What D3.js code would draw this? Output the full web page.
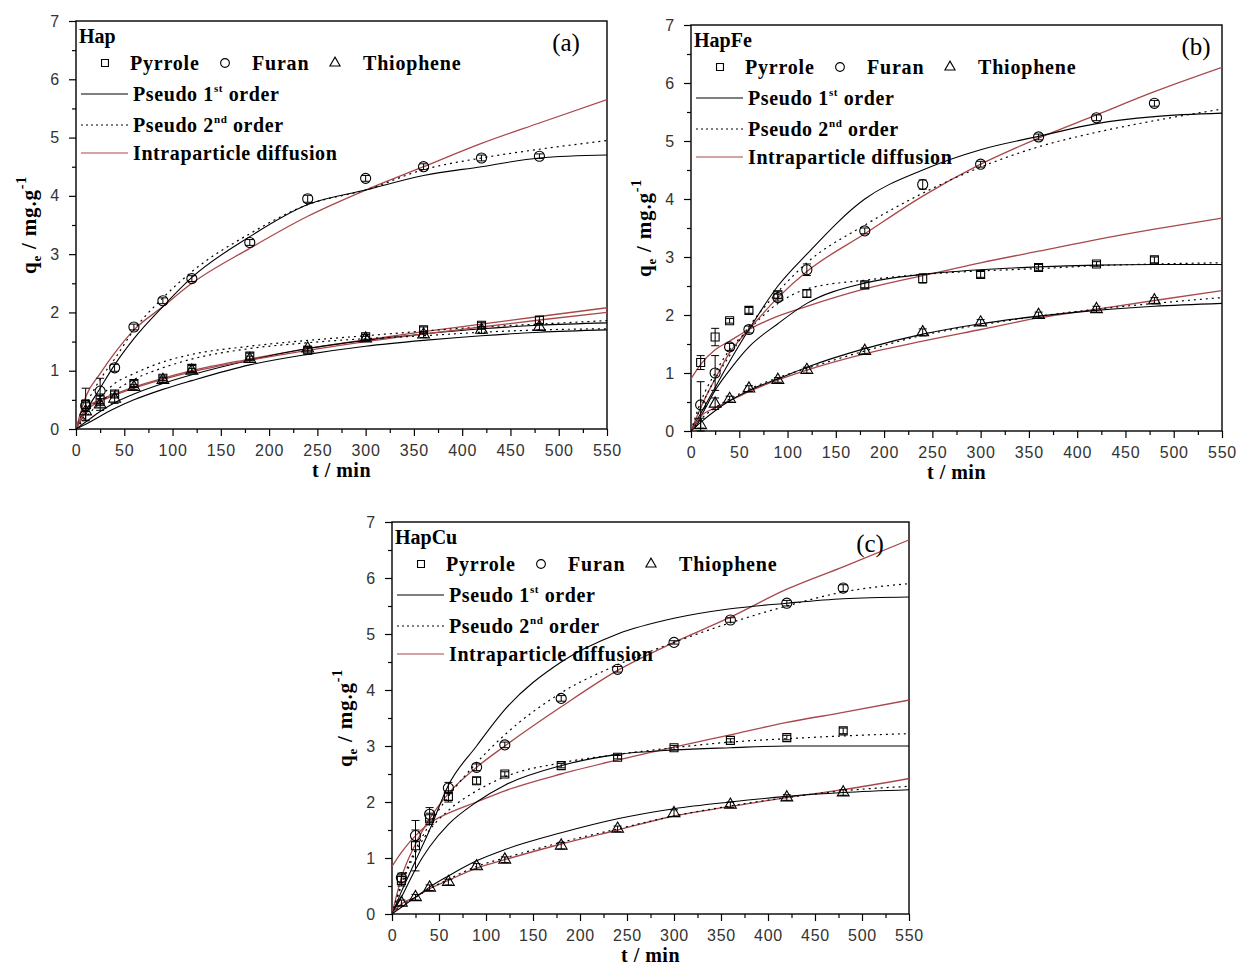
<!DOCTYPE html>
<html>
<head>
<meta charset="utf-8">
<script src="https://cdn.jsdelivr.net/npm/d3@7.9.0/dist/d3.min.js"></script>
<style>
  body { margin: 0; background: #fff; }
  svg { display: block; }
  .tick text { font-family: "Liberation Sans", Arial, sans-serif; font-size: 16px; fill: #333; letter-spacing: 0.8px; }
  .serif { font-family: "Liberation Serif", "Times New Roman", serif; }
</style>
</head>
<body>
<svg id="chart" width="1239" height="970"></svg>
<script>
// Sampling times of the experiments and of the drawn model curves (min)
const sampleTimes = [10, 25, 40, 60, 90, 120, 180, 240, 300, 360, 420, 480];
const curveTimes = [0, 10, 25, 40, 60, 90, 120, 180, 240, 300, 360, 420, 480, 550];

const xTickValues = [0, 50, 100, 150, 200, 250, 300, 350, 400, 450, 500, 550];
const yTickValues = [0, 1, 2, 3, 4, 5, 6, 7];

const panelNames = ['Hap', 'HapFe', 'HapCu'];
const panelTags = ['(a)', '(b)', '(c)'];
const adsorbates = ['Pyrrole', 'Furan', 'Thiophene'];

// ---- (a) Hap ----
const hapPyrrole    = [0.42, 0.50, 0.60, 0.78, 0.87, 1.04, 1.25, 1.35, 1.58, 1.70, 1.78, 1.87];
const hapPyrroleErr = [0.28, 0.10, 0.05, 0.05, 0.04, 0.05, 0.05, 0.05, 0.04, 0.05, 0.05, 0.06];
const hapFuran      = [0.40, 0.65, 1.05, 1.75, 2.20, 2.58, 3.20, 3.95, 4.30, 4.50, 4.65, 4.68];
const hapFuranErr   = [0.10, 0.22, 0.06, 0.05, 0.05, 0.05, 0.05, 0.06, 0.05, 0.05, 0.05, 0.04];
const hapThio       = [0.30, 0.42, 0.52, 0.72, 0.84, 1.00, 1.20, 1.38, 1.55, 1.62, 1.70, 1.75];
const hapThioErr    = [0.15, 0.10, 0.08, 0.04, 0.04, 0.04, 0.05, 0.04, 0.04, 0.05, 0.06, 0.05];

const hapPyrroleP1 = [0, 0.12, 0.30, 0.45, 0.60, 0.78, 0.93, 1.18, 1.38, 1.52, 1.63, 1.72, 1.78, 1.82];
const hapPyrroleP2 = [0, 0.25, 0.55, 0.78, 0.95, 1.15, 1.28, 1.42, 1.52, 1.60, 1.68, 1.75, 1.80, 1.86];
const hapPyrroleID = [0, 0.35, 0.50, 0.60, 0.72, 0.87, 1.00, 1.20, 1.38, 1.53, 1.67, 1.80, 1.93, 2.08];
const hapFuranP1   = [0, 0.30, 0.70, 1.10, 1.55, 2.10, 2.60, 3.30, 3.85, 4.10, 4.35, 4.50, 4.65, 4.70];
const hapFuranP2   = [0, 0.40, 0.85, 1.20, 1.70, 2.25, 2.70, 3.35, 3.85, 4.10, 4.45, 4.65, 4.80, 4.95];
const hapFuranID   = [0, 0.55, 0.95, 1.30, 1.70, 2.10, 2.50, 3.10, 3.65, 4.10, 4.50, 4.90, 5.25, 5.65];
const hapThioP1    = [0, 0.08, 0.22, 0.35, 0.50, 0.68, 0.83, 1.10, 1.28, 1.42, 1.52, 1.60, 1.66, 1.70];
const hapThioP2    = [0, 0.20, 0.45, 0.65, 0.85, 1.05, 1.20, 1.38, 1.48, 1.55, 1.60, 1.66, 1.70, 1.72];
const hapThioID    = [0, 0.30, 0.47, 0.58, 0.70, 0.85, 0.98, 1.18, 1.35, 1.50, 1.63, 1.75, 1.87, 2.00];

// ---- (b) HapFe ----
const fePyrrole    = [1.18, 1.62, 1.90, 2.08, 2.35, 2.37, 2.52, 2.63, 2.70, 2.82, 2.88, 2.95];
const fePyrroleErr = [0.12, 0.15, 0.04, 0.05, 0.06, 0.06, 0.05, 0.08, 0.05, 0.05, 0.04, 0.05];
const feFuran      = [0.45, 1.00, 1.45, 1.75, 2.30, 2.78, 3.45, 4.25, 4.60, 5.07, 5.40, 5.65];
const feFuranErr   = [0.40, 0.30, 0.06, 0.06, 0.06, 0.10, 0.05, 0.08, 0.05, 0.05, 0.05, 0.05];
const feThio       = [0.10, 0.47, 0.55, 0.73, 0.88, 1.05, 1.38, 1.70, 1.87, 2.00, 2.10, 2.25];
const feThioErr    = [0.12, 0.10, 0.05, 0.05, 0.04, 0.05, 0.05, 0.06, 0.05, 0.05, 0.05, 0.05];

const fePyrroleP1 = [0, 0.25, 0.70, 1.05, 1.45, 1.85, 2.20, 2.55, 2.70, 2.78, 2.83, 2.86, 2.87, 2.87];
const fePyrroleP2 = [0, 0.50, 1.00, 1.40, 1.75, 2.20, 2.45, 2.60, 2.70, 2.76, 2.80, 2.85, 2.88, 2.90];
const fePyrroleID = [0.90, 1.15, 1.40, 1.55, 1.75, 1.98, 2.15, 2.45, 2.68, 2.90, 3.10, 3.30, 3.48, 3.67];
const feFuranP1   = [0, 0.30, 0.75, 1.20, 1.75, 2.50, 3.05, 4.00, 4.50, 4.85, 5.08, 5.30, 5.42, 5.48];
const feFuranP2   = [0, 0.40, 0.90, 1.30, 1.80, 2.40, 2.90, 3.55, 4.10, 4.55, 4.90, 5.15, 5.35, 5.55];
const feFuranID   = [0, 0.40, 0.90, 1.35, 1.75, 2.30, 2.75, 3.40, 4.05, 4.60, 5.05, 5.45, 5.85, 6.27];
const feThioP1    = [0, 0.15, 0.35, 0.52, 0.70, 0.90, 1.10, 1.42, 1.67, 1.85, 1.98, 2.08, 2.15, 2.20];
const feThioP2    = [0, 0.20, 0.40, 0.55, 0.72, 0.92, 1.08, 1.38, 1.65, 1.83, 1.98, 2.10, 2.20, 2.30];
const feThioID    = [0, 0.25, 0.40, 0.52, 0.68, 0.88, 1.05, 1.33, 1.55, 1.75, 1.95, 2.10, 2.25, 2.42];

// ---- (c) HapCu ----
const cuPyrrole    = [0.60, 1.22, 1.70, 2.10, 2.38, 2.50, 2.65, 2.80, 2.97, 3.10, 3.15, 3.27];
const cuPyrroleErr = [0.10, 0.45, 0.10, 0.10, 0.06, 0.04, 0.04, 0.03, 0.04, 0.03, 0.04, 0.05];
const cuFuran      = [0.65, 1.40, 1.78, 2.25, 2.62, 3.02, 3.85, 4.37, 4.85, 5.25, 5.55, 5.82];
const cuFuranErr   = [0.08, 0.10, 0.12, 0.10, 0.06, 0.05, 0.05, 0.05, 0.03, 0.04, 0.05, 0.06];
const cuThio       = [0.20, 0.30, 0.47, 0.57, 0.85, 0.97, 1.22, 1.52, 1.80, 1.95, 2.08, 2.17];
const cuThioErr    = [0.05, 0.05, 0.05, 0.05, 0.05, 0.05, 0.06, 0.05, 0.06, 0.05, 0.05, 0.05];

const cuPyrroleP1 = [0, 0.30, 0.80, 1.20, 1.60, 2.00, 2.30, 2.65, 2.85, 2.93, 2.97, 3.00, 3.00, 3.00];
const cuPyrroleP2 = [0, 0.50, 1.10, 1.50, 1.85, 2.20, 2.45, 2.70, 2.85, 2.97, 3.07, 3.13, 3.18, 3.22];
const cuPyrroleID = [0.85, 1.10, 1.40, 1.62, 1.80, 2.00, 2.20, 2.50, 2.75, 2.98, 3.20, 3.42, 3.60, 3.82];
const cuFuranP1   = [0, 0.40, 0.95, 1.50, 2.30, 3.00, 3.65, 4.50, 5.00, 5.28, 5.45, 5.55, 5.63, 5.66];
const cuFuranP2   = [0, 0.55, 1.15, 1.60, 2.10, 2.70, 3.20, 3.95, 4.45, 4.85, 5.20, 5.50, 5.75, 5.90];
const cuFuranID   = [0, 0.65, 1.25, 1.70, 2.15, 2.62, 3.00, 3.70, 4.35, 4.85, 5.30, 5.80, 6.20, 6.68];
const cuThioP1    = [0, 0.12, 0.30, 0.48, 0.68, 0.95, 1.15, 1.45, 1.70, 1.88, 2.00, 2.10, 2.17, 2.22];
const cuThioP2    = [0, 0.15, 0.30, 0.45, 0.62, 0.85, 1.00, 1.28, 1.52, 1.75, 1.93, 2.08, 2.20, 2.28];
const cuThioID    = [0, 0.18, 0.30, 0.45, 0.60, 0.82, 0.97, 1.25, 1.50, 1.75, 1.92, 2.08, 2.22, 2.42];

// plot boxes (pixels) for the three panels
const boxes = [
  { left: 76, top: 21, right: 607, bottom: 429, tagDx: 41 },
  { left: 691, top: 25, right: 1222, bottom: 431, tagDx: 26 },
  { left: 392, top: 522, right: 909, bottom: 914, tagDx: 39 }
];

const symbols = [d3.symbolSquare, d3.symbolCircle, d3.symbolTriangle];
const symbolSizes = [64, 80, 60];
const redColor = '#a8484a';

const panels = [
  { series: [
    { q: hapPyrrole, err: hapPyrroleErr, p1: hapPyrroleP1, p2: hapPyrroleP2, id: hapPyrroleID },
    { q: hapFuran, err: hapFuranErr, p1: hapFuranP1, p2: hapFuranP2, id: hapFuranID },
    { q: hapThio, err: hapThioErr, p1: hapThioP1, p2: hapThioP2, id: hapThioID } ] },
  { series: [
    { q: fePyrrole, err: fePyrroleErr, p1: fePyrroleP1, p2: fePyrroleP2, id: fePyrroleID },
    { q: feFuran, err: feFuranErr, p1: feFuranP1, p2: feFuranP2, id: feFuranID },
    { q: feThio, err: feThioErr, p1: feThioP1, p2: feThioP2, id: feThioID } ] },
  { series: [
    { q: cuPyrrole, err: cuPyrroleErr, p1: cuPyrroleP1, p2: cuPyrroleP2, id: cuPyrroleID },
    { q: cuFuran, err: cuFuranErr, p1: cuFuranP1, p2: cuFuranP2, id: cuFuranID },
    { q: cuThio, err: cuThioErr, p1: cuThioP1, p2: cuThioP2, id: cuThioID } ] }
];

const svg = d3.select('#chart');

panels.forEach((panel, pi) => {
  const box = boxes[pi];
  const g = svg.append('g');

  const x = d3.scaleLinear().domain([0, 550]).range([box.left, box.right]);
  const y = d3.scaleLinear().domain([0, 7]).range([box.bottom, box.top]);

  // minor ticks first
  g.append('g')
    .attr('transform', `translate(0,${box.bottom})`)
    .call(d3.axisBottom(x).tickValues(xTickValues.slice(0, -1).map(v => v + 25)).tickSize(4).tickFormat(''));
  g.append('g')
    .attr('transform', `translate(${box.left},0)`)
    .call(d3.axisLeft(y).tickValues(yTickValues.slice(0, -1).map(v => v + 0.5)).tickSize(4).tickFormat(''));

  // major ticks
  g.append('g')
    .attr('transform', `translate(0,${box.bottom})`)
    .call(d3.axisBottom(x).tickValues(xTickValues).tickFormat(d3.format('d'))
      .tickSize(7).tickPadding(9).tickSizeOuter(0));
  g.append('g')
    .attr('transform', `translate(${box.left},0)`)
    .call(d3.axisLeft(y).tickValues(yTickValues).tickFormat(d3.format('d'))
      .tickSize(7).tickPadding(9).tickSizeOuter(0));

  g.selectAll('.domain').remove();
  g.selectAll('.tick line').attr('stroke', '#000').attr('stroke-width', 1.2);

  // frame
  g.append('rect')
    .attr('x', box.left).attr('y', box.top)
    .attr('width', box.right - box.left).attr('height', box.bottom - box.top)
    .attr('fill', 'none').attr('stroke', '#000').attr('stroke-width', 1.4);

  // clip for curves
  const clipId = 'clip' + pi;
  svg.append('clipPath').attr('id', clipId)
    .append('rect')
    .attr('x', box.left).attr('y', box.top)
    .attr('width', box.right - box.left).attr('height', box.bottom - box.top);

  const line = d3.line()
    .x((d, i) => x(curveTimes[i]))
    .y(d => y(d))
    .curve(d3.curveMonotoneX);

  const curves = g.append('g').attr('clip-path', `url(#${clipId})`);
  panel.series.forEach(s => {
    curves.append('path').attr('d', line(s.id))
      .attr('fill', 'none').attr('stroke', redColor).attr('stroke-width', 1.3);
    curves.append('path').attr('d', line(s.p2))
      .attr('fill', 'none').attr('stroke', '#000').attr('stroke-width', 1.2)
      .attr('stroke-dasharray', '2,4');
    curves.append('path').attr('d', line(s.p1))
      .attr('fill', 'none').attr('stroke', '#000').attr('stroke-width', 1.1);
  });

  // error bars
  panel.series.forEach(s => {
    s.q.forEach((v, i) => {
      const cx = x(sampleTimes[i]);
      const y1 = y(v + s.err[i]), y0 = y(Math.max(0, v - s.err[i]));
      g.append('line').attr('x1', cx).attr('x2', cx).attr('y1', y1).attr('y2', y0)
        .attr('stroke', '#000').attr('stroke-width', 1);
      [y1, y0].forEach(yy => g.append('line')
        .attr('x1', cx - 4).attr('x2', cx + 4).attr('y1', yy).attr('y2', yy)
        .attr('stroke', '#000').attr('stroke-width', 1));
    });
  });

  // markers
  panel.series.forEach((s, si) => {
    g.selectAll(null).data(s.q).join('path')
      .attr('transform', (d, i) => `translate(${x(sampleTimes[i])},${y(d)})`)
      .attr('d', d3.symbol().type(symbols[si]).size(symbolSizes[si]))
      .attr('fill', 'none').attr('stroke', '#000').attr('stroke-width', 1.1);
  });

  // axis titles
  g.append('text').attr('class', 'serif')
    .attr('x', (box.left + box.right) / 2).attr('y', box.bottom + 48)
    .attr('text-anchor', 'middle').attr('font-size', 20).attr('font-weight', 'bold')
    .attr('letter-spacing', 0.5)
    .text('t / min');

  const yl = g.append('text').attr('class', 'serif')
    .attr('transform', `translate(${box.left - 40},${(box.top + box.bottom) / 2}) rotate(-90)`)
    .attr('text-anchor', 'middle').attr('font-size', 21).attr('font-weight', 'bold')
    .attr('letter-spacing', 0.8);
  yl.append('tspan').text('q');
  yl.append('tspan').attr('font-size', 13).attr('dy', 5).text('e');
  yl.append('tspan').attr('dy', -5).text(' / mg.g');
  yl.append('tspan').attr('font-size', 14).attr('dy', -10).text('-1');

  // panel name and tag
  g.append('text').attr('class', 'serif')
    .attr('x', box.left + 3).attr('y', box.top + 22)
    .attr('font-size', 20).attr('font-weight', 'bold').text(panelNames[pi]);
  g.append('text').attr('class', 'serif')
    .attr('x', box.right - box.tagDx).attr('y', box.top + 30)
    .attr('text-anchor', 'middle').attr('font-size', 25).text(panelTags[pi]);

  // legend: symbols row
  const rowY = box.top + 42;
  const symX = [29, 149, 259];
  const labX = [54, 176, 287];
  adsorbates.forEach((name, si) => {
    g.append('path')
      .attr('transform', `translate(${box.left + symX[si]},${rowY})`)
      .attr('d', d3.symbol().type(symbols[si]).size(symbolSizes[si] * 0.75))
      .attr('fill', 'none').attr('stroke', '#000').attr('stroke-width', 1.1);
    g.append('text').attr('class', 'serif')
      .attr('x', box.left + labX[si]).attr('y', rowY + 7)
      .attr('font-size', 20).attr('font-weight', 'bold').attr('letter-spacing', 0.8)
      .text(name);
  });

  // legend: model lines
  const rows = [
    { dy: 73, stroke: '#000', dash: null, parts: ['Pseudo 1', 'st', ' order'] },
    { dy: 104, stroke: '#000', dash: '2,3', parts: ['Pseudo 2', 'nd', ' order'] },
    { dy: 132, stroke: redColor, dash: null, parts: ['Intraparticle diffusion'] }
  ];
  rows.forEach(r => {
    const ly = box.top + r.dy;
    g.append('line')
      .attr('x1', box.left + 5).attr('x2', box.left + 52).attr('y1', ly).attr('y2', ly)
      .attr('stroke', r.stroke).attr('stroke-width', 1.2)
      .attr('stroke-dasharray', r.dash);
    const t = g.append('text').attr('class', 'serif')
      .attr('x', box.left + 57).attr('y', ly + 7)
      .attr('font-size', 20).attr('font-weight', 'bold').attr('letter-spacing', 0.6);
    t.append('tspan').text(r.parts[0]);
    if (r.parts.length > 1) {
      t.append('tspan').attr('font-size', 11).attr('dy', -9).text(r.parts[1]);
      t.append('tspan').attr('dy', 9).text(r.parts[2]);
    }
  });
});
</script>
</body>
</html>
